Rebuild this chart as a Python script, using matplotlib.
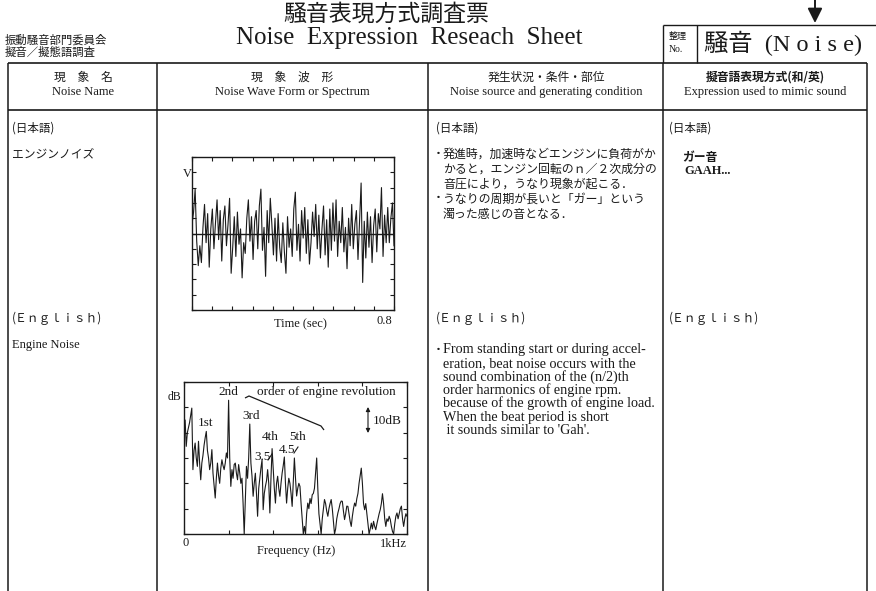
import numpy as np
import matplotlib
matplotlib.use("Agg")
import matplotlib.pyplot as plt

# ---------------- data ----------------
wave_v = [0.6, 1.4, 2.9, -0.5, -2.1, -0.8, -1.9, 0.4, 1.9, -0.6,
          1.3, -2.2, 0.3, 1.6, -1.0, 0.7, 2.2, -0.4, 1.5, -1.8,
          0.9, 1.8, -0.8, 0.6, 2.3, -2.6, -0.9, 1.1, -1.5, 1.4,
          -0.7, 0.3, -2.9, -0.6, -1.3, 1.0, 2.2, -0.5, 1.1, -1.7,
          0.8, 1.5, -1.0, 1.8, 2.9, -1.1, 0.4, -2.8, 1.5, -0.6,
          2.3, 0.6, -1.4, 1.0, -1.8, 1.3, -0.9, -1.9, 0.7, -1.2,
          -2.6, 1.1, -0.9, 0.3, -1.5, 1.6, 2.7, -1.1, 0.6, -1.8,
          1.5, -0.3, 1.7, -1.3, 0.9, -2.0, -0.6, 1.4, -0.2, 1.9,
          -1.0, 1.2, -1.6, 0.3, 1.8, -1.4, 0.9, -2.2, 1.6, -1.1,
          2.0, -0.5, 2.2, -1.5, 0.8, -0.6, 1.7, -1.2, 0.4, -2.3,
          1.0, -0.8, 1.9, -1.0, 0.6, 1.5, -1.7, 0.8, 3.3, -3.2,
          0.8, -1.6, 1.4, -0.9, 1.1, -1.9, 0.5, 1.6, -1.2, 1.3,
          0.3, 3.0, -1.5, 1.2, -0.6, 1.7, -0.6, 1.0, 2.0, -0.8]
wave_tmax = 0.8

spec_db = [38.5, 45, 34.6, 40, 42, 44, 47, 49.7, 25.4, 33,
           35.9, 30, 26.7, 36.6, 28, 21.4, 28, 31, 35, 38,
           40.5, 33, 30, 25.4, 28, 33.3, 24, 19, 14.2, 22,
           28, 23, 20, 26, 29.3, 27, 25.4, 28, 32, 30,
           52.8, 30, 18.8, 25.4, 22, 27.4, 28, 24, 21.4, 27.4,
           24, 20, 22, 12, 0, 14, 26.7, 22, 30, 43.4,
           28, 22.8, 14.9, 20, 24, 16, 7, 18, 22, 26,
           29.3, 9.6, 16, 18.8, 21, 25.4, 20, 8.3, 22, 33.7,
           26, 18, 12.2, 20, 22.8, 18, 14.9, 20, 24, 27,
           30.4, 20, 12.2, 18, 22, 20, 16, 10.9, 20, 30,
           22, 15, 18, 20, 18.8, 12, 6, 0, 3, 0,
           8, 12.2, 10, 14, 12, 15.5, 16, 18, 24, 30,
           18, 8, 4, 0, 6, 10, 13.6, 12, 9, 7,
           10, 12, 13.6, 10, 5, 0, 2, 6, 8.3, 10,
           12, 13, 12.9, 9, 5.7, 8, 11, 10.9, 8, 5,
           3, 7, 10, 12.2, 11, 14, 16, 20, 23, 26,
           20, 12, 9.6, 12, 8, 4, 0, 2, 4.3, 2,
           5, 3, 1.7, 4, 6, 8, 9.6, 12, 15.9, 12,
           6, 3, 6, 5, 7, 5.7, 3, 1, 0, 4,
           7, 8.3, 6, 8, 10, 11, 6, 3, 6, 8, 7]
spec_fmax = 1000
spec_dbmax = 60

order_labels = ['2nd', 'order of engine revolution', '1st', '3rd', '4th', '5th']

# ---------------- fonts ----------------
JP = ['Noto Sans CJK JP', 'DejaVu Sans']
EN = ['Liberation Serif', 'Noto Sans CJK JP', 'DejaVu Sans']
INK = '#1a1a1a'

fig = plt.figure(figsize=(8.76, 5.91), dpi=100)
fig.patch.set_facecolor('white')

ov = fig.add_axes([0, 0, 1, 1])
ov.set_xlim(0, 876)
ov.set_ylim(591, 0)
ov.axis('off')


def T(x, y, s, size, ha='left', va='center', fam=JP, weight='normal'):
    ov.text(x, y, s, fontsize=size, ha=ha, va=va, family=fam,
            weight=weight, color=INK, zorder=5)


def L(xs, ys, lw=1.0):
    ov.plot(xs, ys, color=INK, lw=lw, solid_capstyle='butt')


def bullet(x, y):
    ov.text(x, y, '·', fontsize=11, ha='center', va='center',
            family=['Liberation Serif'], color=INK, weight='bold')


# ---------------- header ----------------
T(5, 40, '振動騒音部門委員会', 8.2)
T(5, 52, '擬音／擬態語調査', 8.2)
T(386, 14, '騒音表現方式調査票', 16.5, ha='center')
T(409, 38, 'Noise  Expression  Reseach  Sheet', 18, ha='center', fam=EN)

# top-right box
L([663, 876], [25, 25])
L([663, 663], [25, 63])
L([697, 697], [25, 63])
T(669, 36, '整理', 6.5)
T(669, 49, 'No.', 7, fam=EN)
T(704, 43, '騒音  (N o i s e)', 17.5, fam=EN)

# arrow
ov.annotate('', xy=(815, 23), xytext=(815, -2),
            arrowprops=dict(arrowstyle='-|>', color=INK, lw=1.4,
                            mutation_scale=22, shrinkA=0, shrinkB=0))

# ---------------- table ----------------
L([8, 867], [63, 63], 1.2)
L([8, 867], [110, 110], 1.2)
for x in [8, 157, 428, 663, 867]:
    L([x, x], [63, 591], 1.1)

T(83, 77, '現　象　名', 8.5, ha='center')
T(83, 92, 'Noise Name', 9, ha='center', fam=EN)
T(292, 77, '現　象　波　形', 8.5, ha='center')
T(292, 92, 'Noise Wave Form or Spectrum', 9, ha='center', fam=EN)
T(546, 77, '発生状況・条件・部位', 8.5, ha='center')
T(546, 92, 'Noise source and generating condition', 9, ha='center', fam=EN)
T(765, 77, '擬音語表現方式(和/英)', 8.5, ha='center', weight='bold')
T(765, 92, 'Expression used to mimic sound', 9, ha='center', fam=EN)

# column 1
T(12, 128, '(日本語)', 8.3)
T(12, 155, 'エンジンノイズ', 8.5)
T(12, 318, '(Ｅｎｇｌｉｓｈ)', 8.5)
T(12, 345, 'Engine Noise', 9, fam=EN)

# column 3 Japanese
T(436, 128, '(日本語)', 8.3)
bullet(438.5, 154)
T(443, 154, '発進時，加速時などエンジンに負荷がか', 8.6)
T(443, 169, 'かると，エンジン回転のｎ／２次成分の', 8.6)
T(443, 184, '音圧により，うなり現象が起こる．', 8.6)
bullet(438.5, 199)
T(443, 199, 'うなりの周期が長いと「ガー」という', 8.6)
T(443, 214, '濁った感じの音となる．', 8.6)

# column 3 English
T(436, 318, '(Ｅｎｇｌｉｓｈ)', 8.5)
bullet(438.5, 350)
en_lines = ["From standing start or during accel-",
            "eration, beat noise occurs with the",
            "sound combination of the (n/2)th",
            "order harmonics of engine rpm.",
            "because of the growth of engine load.",
            "When the beat period is short",
            " it sounds similar to 'Gah'."]
for i, s in enumerate(en_lines):
    T(443, 350 + i * 13.4, s, 10.2, fam=EN)

# column 4
T(669, 128, '(日本語)', 8.3)
T(682, 157, 'ガー音', 8.5, weight='bold')
T(684, 171, 'GAAH...', 9, fam=EN, weight='bold')
T(669, 318, '(Ｅｎｇｌｉｓｈ)', 8.5)

# ---------------- waveform ----------------
W, H = 876.0, 591.0
axw = fig.add_axes([192 / W, 1 - 310 / H, 202 / W, 153 / H])
axw.patch.set_alpha(0)
t = np.linspace(0, wave_tmax, len(wave_v))
axw.plot(t, wave_v, color=INK, lw=0.8)
axw.axhline(0, color=INK, lw=1.0)
axw.set_xlim(0, wave_tmax)
axw.set_ylim(-5, 5)
axw.set_xticks(np.arange(0, wave_tmax + 1e-9, wave_tmax / 10))
axw.set_yticks(np.arange(-5, 5.01, 1))
axw.tick_params(direction='in', length=3, width=0.8, top=True, right=True,
                labelbottom=False, labelleft=False, color=INK)
for sp in axw.spines.values():
    sp.set_color(INK)
    sp.set_linewidth(1.0)
T(183, 174, 'V', 9, fam=EN)
T(300, 324, 'Time (sec)', 9, ha='center', fam=EN)
T(384, 321, '0.8', 9, ha='center', fam=EN)

# ---------------- spectrum ----------------
axs = fig.add_axes([184 / W, 1 - 534 / H, 223 / W, 152 / H])
axs.patch.set_alpha(0)
f = np.linspace(0, spec_fmax, len(spec_db))
axs.plot(f, spec_db, color=INK, lw=0.8)
axs.set_xlim(0, spec_fmax)
axs.set_ylim(0, spec_dbmax)
axs.set_xticks(np.arange(0, spec_fmax + 1, 200))
axs.set_yticks(np.arange(0, spec_dbmax + 1, 10))
axs.tick_params(direction='in', length=3, width=0.8, top=True, right=True,
                labelbottom=False, labelleft=False, color=INK)
for sp in axs.spines.values():
    sp.set_color(INK)
    sp.set_linewidth(1.0)

T(168, 397, 'dB', 8.5, fam=EN)
T(186, 543, '0', 9, ha='center', fam=EN)
T(393, 544, '1kHz', 9, ha='center', fam=EN)
T(296, 551, 'Frequency (Hz)', 9, ha='center', fam=EN)

order_pos = [(228, 392), (326, 392), (206, 423), (251, 416), (270, 437), (298, 437)]
for s, (x, y) in zip(order_labels, order_pos):
    T(x, y, s, 9.5, ha='center', fam=EN)
T(254, 457, '3.5', 9.5, fam=EN)
T(279, 450, '4.5', 9.5, fam=EN)
ov.plot([268, 272], [460, 454], color=INK, lw=0.8)
ov.plot([294, 298], [453, 447], color=INK, lw=0.8)
L([245, 249, 321, 324], [398, 396, 426, 430], 0.9)
ov.annotate('', xy=(368, 433), xytext=(368, 407),
            arrowprops=dict(arrowstyle='<|-|>', color=INK, lw=0.8, mutation_scale=6,
                            shrinkA=0, shrinkB=0))
T(373, 421, '10dB', 9.5, fam=EN)

fig.savefig('out.png', dpi=100, facecolor='white')
